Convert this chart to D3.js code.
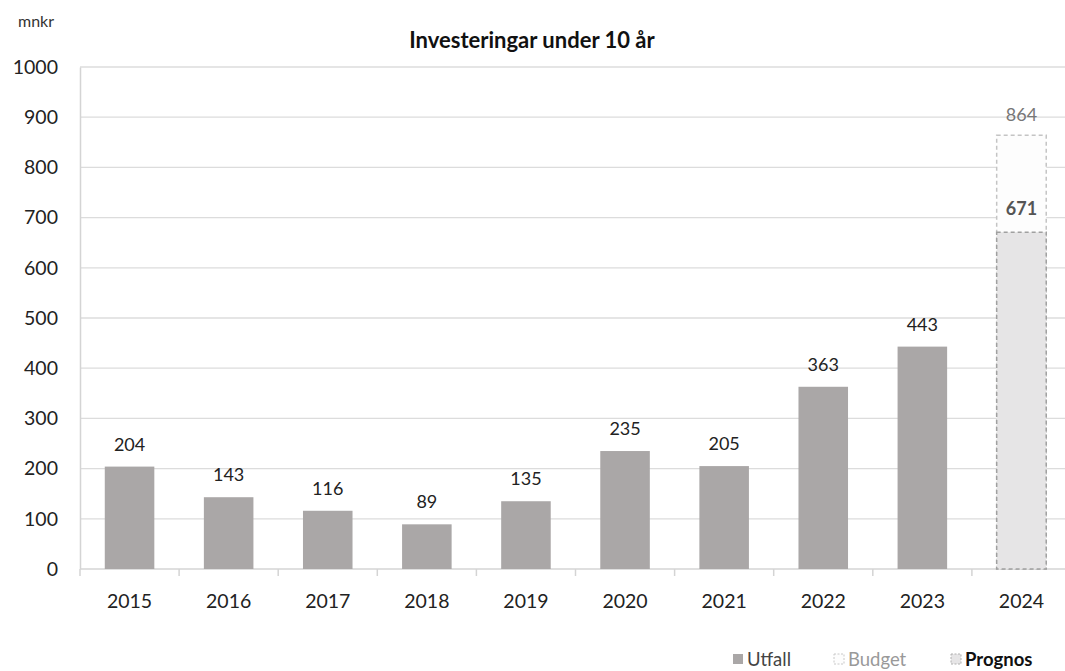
<!DOCTYPE html>
<html><head><meta charset="utf-8">
<script src="https://cdn.jsdelivr.net/npm/d3@7"></script>
<style>body{margin:0;background:#fff;} svg{display:block;font-family:Lato, "Open Sans", sans-serif;}</style>
</head><body><svg id="c" width="1065" height="671"></svg>
<script>
const years = ["2015","2016","2017","2018","2019","2020","2021","2022","2023","2024"];
const utfall = [204,143,116,89,135,235,205,363,443,null];
const budget2024 = 864;
const prognos2024 = 671;
const yTicks = [0,100,200,300,400,500,600,700,800,900,1000];

const svg = d3.select("#c");
const x = d3.scaleBand().domain(years).range([80,1071]).paddingInner(0.5).paddingOuter(0.25);
const y = d3.scaleLinear().domain([0,1000]).range([569,67]);

// gridlines
svg.append("g").selectAll("line").data(yTicks.filter(d=>d>0)).join("line")
  .attr("x1",80).attr("x2",1065).attr("y1",d=>y(d)).attr("y2",d=>y(d))
  .attr("stroke","#dcdcdc").attr("stroke-width",1.3);

// y axis
const ya = svg.append("g").attr("transform","translate(80,0)")
  .call(d3.axisLeft(y).tickValues(yTicks).tickFormat(d3.format("d")).tickSize(0).tickPadding(22));
ya.select(".domain").attr("stroke","#d4d4d4").attr("stroke-width",1.5);
ya.selectAll("text").attr("font-size",19.5).attr("fill","#222").attr("font-family","Lato, sans-serif");

// x axis
const xa = svg.append("g").attr("transform","translate(0,569)")
  .call(d3.axisBottom(x).tickSize(0).tickPadding(25));
xa.select(".domain").remove();
xa.selectAll("text").attr("font-size",19.5).attr("fill","#222").attr("font-family","Lato, sans-serif");
svg.append("line").attr("x1",80).attr("x2",1065).attr("y1",569).attr("y2",569).attr("stroke","#d4d4d4").attr("stroke-width",1.5);
svg.append("g").selectAll("line").data(years).join("line")
  .attr("x1",d=>x(d)-x.bandwidth()/2).attr("x2",d=>x(d)-x.bandwidth()/2)
  .attr("y1",569).attr("y2",576).attr("stroke","#d4d4d4").attr("stroke-width",1.5);

// utfall bars
const data = years.map((d,i)=>({year:d,v:utfall[i]})).filter(d=>d.v!=null);
svg.append("g").selectAll("rect").data(data).join("rect")
  .attr("x",d=>x(d.year)).attr("width",x.bandwidth())
  .attr("y",d=>y(d.v)).attr("height",d=>y(0)-y(d.v)).attr("fill","#aaa7a7");
svg.append("g").selectAll("text").data(data).join("text")
  .attr("x",d=>x(d.year)+x.bandwidth()/2).attr("y",d=>y(d.v)-16)
  .attr("text-anchor","middle").attr("font-size",18).attr("fill","#222").text(d=>d.v);

// 2024 budget + prognos
const bx = x("2024"), bw = x.bandwidth();
svg.append("rect").attr("x",bx).attr("width",bw).attr("y",y(budget2024)).attr("height",y(0)-y(budget2024))
  .attr("fill","#fdfdfd").attr("stroke","#c4c4c4").attr("stroke-width",1.5).attr("stroke-dasharray","4,3");
svg.append("rect").attr("x",bx).attr("width",bw).attr("y",y(prognos2024)).attr("height",y(0)-y(prognos2024))
  .attr("fill","#e6e5e6").attr("stroke","#a0a0a0").attr("stroke-width",1.5).attr("stroke-dasharray","4,3");
svg.append("text").attr("x",bx+bw/2).attr("y",y(budget2024)-14).attr("text-anchor","middle")
  .attr("font-size",18).attr("fill","#777").text(budget2024);
svg.append("text").attr("x",bx+bw/2).attr("y",y(prognos2024)-17).attr("text-anchor","middle")
  .attr("font-size",18).attr("font-weight","bold").attr("fill","#555").text(prognos2024);

// title + unit
svg.append("text").attr("x",532).attr("y",48).attr("text-anchor","middle").attr("font-size",22)
  .attr("font-weight","bold").attr("fill","#111").text("Investeringar under 10 år");
svg.append("text").attr("x",18).attr("y",27).attr("font-size",16).attr("fill","#333").text("mnkr");

// legend
const leg = [
  {t:"Utfall",x:733,fill:"#aaa7a7",stroke:"none",tc:"#444",fw:"normal"},
  {t:"Budget",x:834,fill:"#fdfdfd",stroke:"#c8c8c8",tc:"#999",fw:"normal"},
  {t:"Prognos",x:951,fill:"#e6e5e6",stroke:"#b0b0b0",tc:"#111",fw:"bold"}
];
const lg = svg.append("g").selectAll("g").data(leg).join("g");
lg.append("rect").attr("x",d=>d.x).attr("y",654).attr("width",10).attr("height",10)
  .attr("fill",d=>d.fill).attr("stroke",d=>d.stroke).attr("stroke-dasharray","2,1.5");
lg.append("text").attr("x",d=>d.x+14).attr("y",666).attr("font-size",18.5)
  .attr("fill",d=>d.tc).attr("font-weight",d=>d.fw).text(d=>d.t);
</script></body></html>
